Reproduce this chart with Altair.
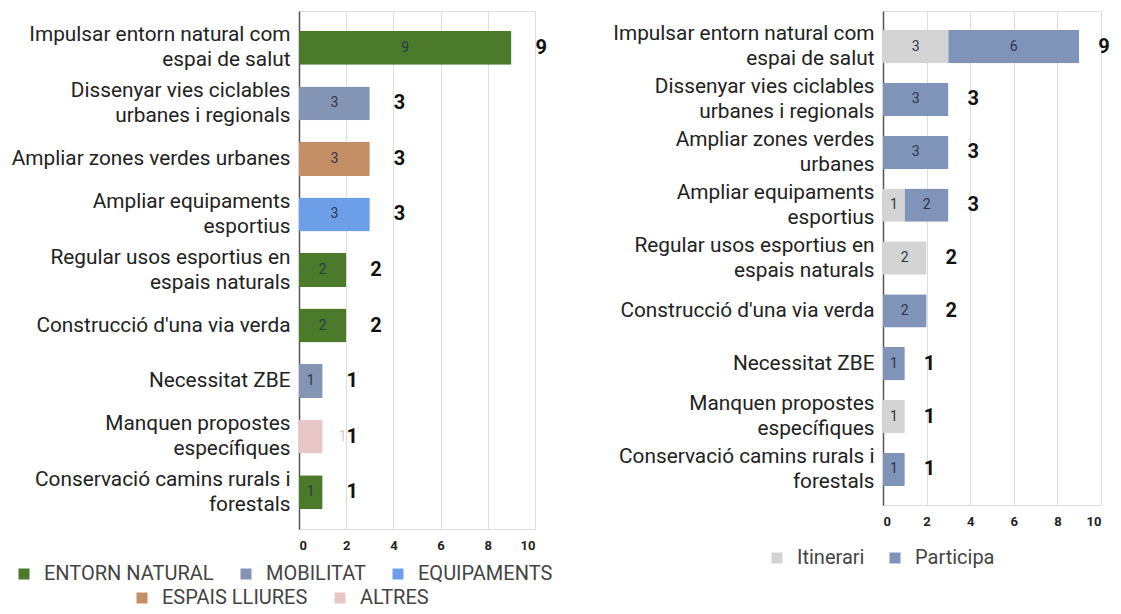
import altair as alt
import pandas as pd

# ---- data ----
labels_left = [
    "Impulsar entorn natural com|espai de salut",
    "Dissenyar vies ciclables|urbanes i regionals",
    "Ampliar zones verdes urbanes",
    "Ampliar equipaments|esportius",
    "Regular usos esportius en|espais naturals",
    "Construcció d'una via verda",
    "Necessitat ZBE",
    "Manquen propostes|específiques",
    "Conservació camins rurals i|forestals",
]
labels_right = [
    "Impulsar entorn natural com|espai de salut",
    "Dissenyar vies ciclables|urbanes i regionals",
    "Ampliar zones verdes|urbanes",
    "Ampliar equipaments|esportius",
    "Regular usos esportius en|espais naturals",
    "Construcció d'una via verda",
    "Necessitat ZBE",
    "Manquen propostes|específiques",
    "Conservació camins rurals i|forestals",
]
groups_left = ["ENTORN NATURAL", "MOBILITAT", "ESPAIS LLIURES", "EQUIPAMENTS",
               "ENTORN NATURAL", "ENTORN NATURAL", "MOBILITAT", "ALTRES", "ENTORN NATURAL"]
values_left = [9, 3, 3, 3, 2, 2, 1, 1, 1]

groups_row1 = ["ENTORN NATURAL", "MOBILITAT", "EQUIPAMENTS"]
colors_row1 = ["#4b7a2b", "#8494b4", "#6d9ee8"]
groups_row2 = ["ESPAIS LLIURES", "ALTRES"]
colors_row2 = ["#c48e66", "#e8c6c6"]

itinerari = [3, 0, 0, 1, 2, 0, 0, 1, 0]
participa = [6, 3, 3, 2, 0, 2, 1, 0, 1]
series_names = ["Itinerari", "Participa"]
series_colors = ["#d4d4d4", "#8093b8"]

FONT = "Roboto"
TXT = "#222222"
LAB_FS = 20.8


def y_axis():
    return alt.Axis(
        labelExpr="split(datum.value, '|')", labelFontSize=LAB_FS, labelFont=FONT,
        labelColor=TXT, labelLineHeight=25, labelPadding=9, ticks=False,
        domainColor="#555555", domainWidth=1.5, labelLimit=500,
        labelOffset={"condition": {"test": "indexof(datum.value, '|') >= 0", "value": -12.5},
                     "value": 0})


x_scale = alt.Scale(domain=[0, 10], nice=False)
x_axis = alt.Axis(values=[0, 2, 4, 6, 8, 10], labelFontSize=13, labelFontWeight="bold",
                  labelFont=FONT, labelColor=TXT, domain=False, ticks=False,
                  gridColor="#dddddd", labelPadding=10)


def legend(x, y, col_pad=22):
    return alt.Legend(title=None, orient="none", legendX=x, legendY=y, direction="horizontal",
                      symbolType="square", symbolSize=121, symbolStrokeWidth=0,
                      labelFontSize=20, labelFont=FONT, labelColor="#444444",
                      labelLimit=300, columnPadding=col_pad, labelOffset=10)


# ---- left chart ----
df_left = pd.DataFrame({"label": labels_left, "group": groups_left, "value": values_left})
df_left["is_altres"] = df_left["group"] == "ALTRES"

ys_left = alt.Scale(domain=labels_left, paddingInner=0.39, paddingOuter=0.36)
y_left = alt.Y("label:N", sort=labels_left, title=None, scale=ys_left, axis=y_axis())
base_l = alt.Chart(df_left)

bars_row1 = base_l.transform_filter(
    alt.FieldOneOfPredicate(field="group", oneOf=groups_row1)).mark_bar(cornerRadius=1).encode(
    x=alt.X("value:Q", scale=x_scale, axis=x_axis, title=None),
    y=y_left,
    color=alt.Color("group:N", scale=alt.Scale(domain=groups_row1, range=colors_row1),
                    legend=legend(-285, 553)),
)
bars_row2 = base_l.transform_filter(
    alt.FieldOneOfPredicate(field="group", oneOf=groups_row2)).mark_bar(cornerRadius=1).encode(
    x=alt.X("value:Q", scale=x_scale),
    y=alt.Y("label:N", sort=labels_left, scale=ys_left),
    fill=alt.Fill("group:N", scale=alt.Scale(domain=groups_row2, range=colors_row2),
                  legend=legend(-167, 577)),
)
inner_left = base_l.transform_filter("!datum.is_altres").transform_calculate(
    mid="datum.value / 2").mark_text(
    fontSize=14, font=FONT, color="#2e3648", baseline="middle").encode(
    x=alt.X("mid:Q", scale=x_scale), y=alt.Y("label:N", sort=labels_left, scale=ys_left),
    text="value:Q")
altres_left = base_l.transform_filter("datum.is_altres").mark_text(
    fontSize=14, font=FONT, color="#e6c4c4", baseline="middle", align="center", dx=20).encode(
    x=alt.X("value:Q", scale=x_scale), y=alt.Y("label:N", sort=labels_left, scale=ys_left),
    text="value:Q")
total_left = base_l.mark_text(
    fontSize=20, font=FONT, fontWeight="bold", color="#111111", baseline="middle",
    align="left", dx=24).encode(
    x=alt.X("value:Q", scale=x_scale), y=alt.Y("label:N", sort=labels_left, scale=ys_left),
    text="value:Q")

left = alt.layer(bars_row1, bars_row2, inner_left, altres_left, total_left).resolve_scale(
    color="independent", fill="independent").properties(width=236, height=518)

# ---- right chart ----
rows = []
for lab, a, b in zip(labels_right, itinerari, participa):
    rows.append({"label": lab, "series": "Itinerari", "value": a, "order": 0})
    rows.append({"label": lab, "series": "Participa", "value": b, "order": 1})
df_right = pd.DataFrame(rows)
df_right_tot = pd.DataFrame({"label": labels_right,
                             "total": [a + b for a, b in zip(itinerari, participa)]})

ys_right = alt.Scale(domain=labels_right, paddingInner=0.37, paddingOuter=0.36)
y_right = alt.Y("label:N", sort=labels_right, title=None, scale=ys_right, axis=y_axis())

base_r = alt.Chart(df_right).transform_filter("datum.value > 0")
bars_right = base_r.mark_bar(cornerRadius=1).encode(
    x=alt.X("value:Q", stack="zero", scale=x_scale, axis=x_axis, title=None),
    y=y_right,
    color=alt.Color("series:N", scale=alt.Scale(domain=series_names, range=series_colors),
                    legend=legend(-116, 537, 20)),
    order=alt.Order("order:Q"),
)
inner_right = base_r.transform_stack(
    stack="value", groupby=["label"], as_=["v0", "v1"],
    sort=[alt.SortField("order")]).transform_calculate(
    mid="(datum.v0 + datum.v1) / 2").mark_text(
    fontSize=14, font=FONT, color="#2e3648", baseline="middle").encode(
    x=alt.X("mid:Q", scale=x_scale), y=alt.Y("label:N", sort=labels_right, scale=ys_right),
    text="value:Q")
total_right = alt.Chart(df_right_tot).mark_text(
    fontSize=20, font=FONT, fontWeight="bold", color="#111111", baseline="middle",
    align="left", dx=19).encode(
    x=alt.X("total:Q", scale=x_scale), y=alt.Y("label:N", sort=labels_right, scale=ys_right),
    text="total:Q")

right = alt.layer(bars_right, inner_right, total_right).properties(width=218, height=494)

chart = alt.hconcat(left, right, spacing=58).resolve_scale(
    color="independent", fill="independent").properties(
    padding={"left": 2, "top": 2, "right": 0, "bottom": 0}).configure_view(
    stroke=None).configure(background="white")

chart.save("out.html", embed_options={"renderer": "svg", "actions": False})
